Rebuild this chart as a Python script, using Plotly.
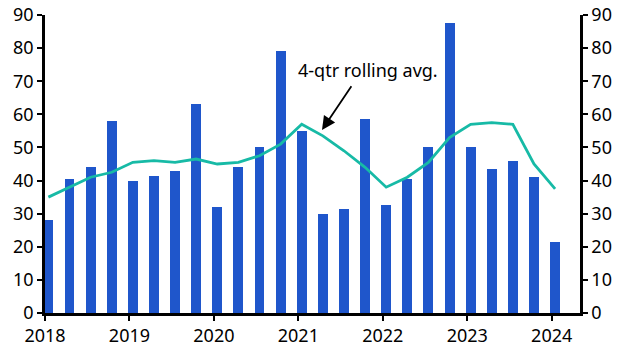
import plotly.graph_objects as go

quarters = ["2018Q1","2018Q2","2018Q3","2018Q4","2019Q1","2019Q2","2019Q3","2019Q4",
            "2020Q1","2020Q2","2020Q3","2020Q4","2021Q1","2021Q2","2021Q3","2021Q4",
            "2022Q1","2022Q2","2022Q3","2022Q4","2023Q1","2023Q2","2023Q3","2023Q4","2024Q1"]
values = [28, 40.5, 44, 58, 40, 41.5, 43, 63,
          32, 44, 50, 79, 55, 30, 31.5, 58.5,
          32.5, 40.5, 50, 87.5, 50, 43.5, 46, 41, 21.5]
rolling_avg = [35, 38, 41, 42.5, 45.5, 46, 45.5, 46.5,
               45, 45.5, 47.5, 51, 57, 53.5, 49, 44,
               38, 41, 45.5, 53, 57, 57.5, 57, 45, 37.5]
year_ticks = [2018, 2019, 2020, 2021, 2022, 2023, 2024]
y_ticks = list(range(0, 91, 10))

# quarter -> numeric year position (small offset into the quarter)
xpos = [int(q[:4]) + (int(q[-1]) - 1) * 0.25 + 0.04 for q in quarters]

BLUE = "#1F56CB"
TEAL = "#17BAA6"
FONT = "Noto Sans"

fig = go.Figure()
fig.add_trace(go.Bar(x=xpos, y=values, marker_color=BLUE, width=0.118,
                     marker_line_width=0, showlegend=False))
fig.add_trace(go.Scatter(x=xpos, y=rolling_avg, mode="lines",
                         line=dict(color=TEAL, width=2.8), showlegend=False))
fig.add_trace(go.Scatter(x=xpos, y=rolling_avg, mode="lines", yaxis="y2",
                         line=dict(color="rgba(0,0,0,0)", width=0), showlegend=False,
                         hoverinfo="skip"))

axis_common = dict(range=[0, 90], tickvals=y_ticks, ticks="outside", ticklen=5,
                   tickwidth=2, tickcolor="black", showline=True, linecolor="black",
                   linewidth=2.5, showgrid=False, zeroline=False, automargin=False,
                   tickfont=dict(family=FONT, size=18, color="black"))

fig.update_layout(
    width=629, height=353,
    margin=dict(l=45, r=49, t=15, b=40),
    plot_bgcolor="white", paper_bgcolor="white",
    bargap=0,
    xaxis=dict(range=[2018, 2024.335], tickvals=year_ticks,
               ticktext=[str(y) for y in year_ticks], ticks="outside", ticklen=5,
               tickwidth=2, tickcolor="black", showline=True, linecolor="black",
               linewidth=2.5, showgrid=False, zeroline=False, automargin=False,
               tickfont=dict(family=FONT, size=18, color="black")),
    yaxis=dict(side="left", **axis_common),
    yaxis2=dict(side="right", overlaying="y", **axis_common),
    annotations=[
        dict(x=2021.28, y=55.3, xref="x", yref="y",
             ax=2021.64, ay=68.9, axref="x", ayref="y",
             showarrow=True, arrowhead=2, arrowsize=1.5, arrowwidth=1.8,
             arrowcolor="black", text=""),
        dict(x=2021.82, y=73.5, xref="x", yref="y", text="4-qtr rolling avg.",
             showarrow=False, font=dict(family=FONT, size=18, color="black")),
    ],
)

fig.write_html("out.html")
